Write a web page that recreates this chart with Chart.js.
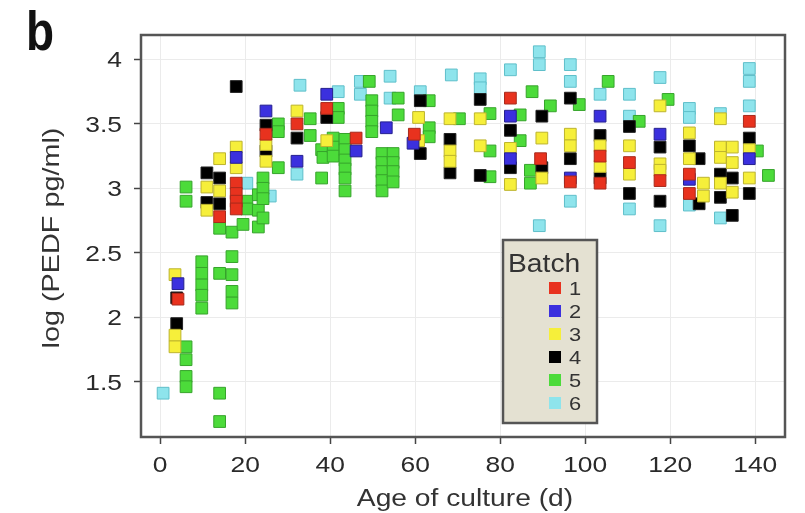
<!DOCTYPE html>
<html>
<head>
<meta charset="utf-8">
<script src="https://cdn.jsdelivr.net/npm/chart.js@4.4.1/dist/chart.umd.min.js"></script>
<style>
  html, body { margin: 0; padding: 0; background: #fff; }
  #wrap { width: 805px; height: 513px; position: relative; }
</style>
</head>
<body>
<div id="wrap"><canvas id="pedfChart"></canvas></div>
<script>
// axis ticks
const xTickValues = [0, 20, 40, 60, 80, 100, 120, 140];
const yTickValues = [1.5, 2, 2.5, 3, 3.5, 4];
const batchLabels = ['1', '2', '3', '4', '5', '6'];

// batch 1 (red)
const batch1Days = [4.2, 17.9, 17.9, 17.9, 17.9, 14.0, 24.9, 32.2, 39.2, 46.1, 59.8, 82.4, 89.5, 96.5, 103.5, 103.5, 110.4, 117.6, 124.5, 124.5, 138.6];
const batch1Logs = [2.14, 3.04, 2.96, 2.90, 2.84, 2.78, 3.42, 3.50, 3.62, 3.39, 3.42, 3.70, 3.23, 3.05, 3.25, 3.04, 3.20, 3.06, 3.11, 2.96, 3.52];

// batch 2 (blue)
const batch2Days = [4.2, 17.9, 24.9, 32.2, 39.2, 46.1, 53.2, 59.5, 82.4, 82.4, 96.5, 103.5, 117.6, 124.5, 138.6];
const batch2Logs = [2.26, 3.24, 3.60, 3.21, 3.73, 3.29, 3.47, 3.35, 3.56, 3.23, 3.08, 3.56, 3.42, 3.07, 3.23];

// batch 3 (yellow)
const batch3Days = [3.5, 3.5, 3.5, 11.0, 11.0, 14.0, 14.0, 17.9, 17.9, 24.9, 24.9, 32.2, 39.2, 60.8, 60.8,
  68.2, 68.2, 68.2, 75.3, 75.3, 82.4, 82.4, 89.8, 89.8, 96.5, 96.5, 103.5, 103.5, 110.4, 110.4,
  117.6, 117.6, 117.6, 124.5, 124.5, 127.8, 127.8, 131.8, 131.8, 131.8, 131.8, 134.6, 134.6, 134.6, 138.6, 138.6];
const batch3Logs = [2.33, 1.86, 1.77, 3.01, 2.83, 3.23, 2.98, 3.32, 3.16, 3.34, 3.21, 3.60, 3.37, 3.55, 3.37,
  3.54, 3.29, 3.21, 3.54, 3.33, 3.31, 3.03, 3.39, 3.08, 3.42, 3.33, 3.33, 3.17, 3.33, 3.11,
  3.64, 3.19, 3.14, 3.43, 3.23, 3.04, 2.94, 3.54, 3.32, 3.24, 3.04, 3.32, 3.20, 2.97, 3.30, 3.08];

// batch 4 (black)
const batch4Days = [3.9, 3.9, 11.0, 11.0, 14.0, 14.0, 17.9, 24.9, 24.9, 32.2, 39.2, 61.2, 61.2, 68.2, 68.2,
  75.3, 75.3, 82.4, 82.4, 89.8, 89.8, 96.5, 96.5, 103.5, 103.5, 110.4, 110.4, 117.6, 117.6, 124.5,
  126.8, 126.8, 131.8, 131.8, 134.6, 134.6, 138.6, 138.6];
const batch4Logs = [2.15, 1.95, 3.12, 2.89, 3.08, 2.88, 3.79, 3.49, 3.29, 3.39, 3.55, 3.68, 3.27, 3.38, 3.12,
  3.69, 3.10, 3.45, 3.16, 3.56, 3.16, 3.70, 3.23, 3.41, 3.08, 3.48, 2.96, 3.32, 2.90, 3.33,
  3.23, 2.88, 3.11, 2.93, 3.08, 2.79, 3.39, 2.96];

// batch 5 (green)
const batch5Days = [6.1, 6.1, 6.1, 6.1, 6.1, 6.1, 9.8, 9.8, 9.8, 9.8, 9.8, 14.0, 14.0, 14.0, 14.0,
  16.9, 16.9, 16.9, 16.9, 16.9, 19.5, 20.4, 20.4, 23.1, 23.1, 23.1, 24.2, 24.2, 24.2, 24.2,
  27.8, 27.8, 27.8, 35.3, 35.3, 38.0, 38.0, 38.3, 41.9, 41.9, 40.7, 40.7, 40.7,
  43.5, 43.5, 43.5, 43.5, 43.5, 43.5, 49.2, 49.8, 49.8, 49.8, 49.8,
  52.2, 52.2, 52.2, 52.2, 52.2, 54.8, 54.8, 54.8, 54.8, 56.0, 56.0, 63.3, 63.3, 63.3,
  70.4, 77.6, 77.6, 77.6, 84.7, 84.7, 87.1, 87.1, 87.5, 91.8, 98.6, 105.4, 112.7, 119.5, 140.5, 143.1];
const batch5Logs = [3.01, 2.90, 1.77, 1.67, 1.54, 1.46, 2.43, 2.34, 2.25, 2.17, 2.07, 2.34, 1.41, 1.19, 2.69,
  2.47, 2.33, 2.20, 2.11, 2.66, 2.72, 2.90, 2.84, 2.95, 2.83, 2.70, 3.08, 3.00, 2.92, 2.77,
  3.50, 3.44, 3.16, 3.54, 3.41, 3.08, 3.30, 3.24, 3.62, 3.55, 3.39, 3.32, 3.25,
  3.38, 3.30, 3.22, 3.15, 3.08, 2.98, 3.83, 3.68, 3.60, 3.52, 3.44,
  3.27, 3.20, 3.13, 3.06, 2.98, 3.27, 3.20, 3.13, 3.05, 3.70, 3.57, 3.68, 3.47, 3.40,
  3.54, 3.58, 3.29, 3.09, 3.57, 3.37, 3.14, 3.04, 3.75, 3.64, 3.65, 3.83, 3.52, 3.69, 3.29, 3.10];

// batch 6 (cyan)
const batch6Days = [0.7, 20.4, 25.9, 32.9, 32.2, 41.9, 47.1, 47.1, 54.1, 54.1, 61.2, 68.5, 75.3, 75.3, 82.4,
  89.2, 89.2, 89.2, 96.5, 96.5, 96.5, 103.5, 110.4, 110.4, 110.4, 117.6, 117.6,
  124.5, 124.5, 124.5, 131.8, 131.8, 138.6, 138.6, 138.6];
const batch6Logs = [1.41, 3.04, 2.94, 3.80, 3.11, 3.75, 3.83, 3.73, 3.87, 3.70, 3.75, 3.88, 3.85, 3.78, 3.92,
  4.06, 3.96, 2.71, 3.96, 3.83, 2.90, 3.73, 3.73, 3.56, 2.84, 3.86, 2.71,
  3.62, 3.55, 2.87, 3.58, 2.77, 3.93, 3.83, 3.64];

const batchFill = ['#e8321e', '#3b30de', '#f6ef3a', '#000000', '#4cdb3a', '#8ee4ec'];
const batchEdge = ['#a82a1c', '#25208f', '#bdb42e', '#222222', '#36a42b', '#5fbfca'];

const FONT = '"Liberation Sans", Arial, Helvetica, sans-serif';

function stretchedText(ctx, text, x, y, opts) {
    ctx.save();
    ctx.translate(x, y);
    if (opts.rotate) ctx.rotate(opts.rotate);
    ctx.scale(opts.sx || 1, 1);
    ctx.font = opts.font;
    ctx.fillStyle = opts.color || '#333';
    ctx.textAlign = opts.align || 'left';
    ctx.textBaseline = 'alphabetic';
    ctx.fillText(text, 0, 0);
    ctx.restore();
}

const decorPlugin = {
    id: 'decor',
    afterDatasetsDraw(chart) {
        const { ctx, chartArea: a } = chart;
        ctx.save();
        ctx.strokeStyle = '#555';
        ctx.lineWidth = 2.5;
        ctx.strokeRect(a.left, a.top, a.right - a.left, a.bottom - a.top);
        ctx.restore();
    },
    afterDraw(chart) {
        const ctx = chart.ctx;
        const xs = chart.scales.x, ys = chart.scales.y;
        const a = chart.chartArea;

        // tick labels
        xs.ticks.forEach(t => {
            stretchedText(ctx, String(t.value), xs.getPixelForValue(t.value), 471.5,
                { font: '22px ' + FONT, sx: 1.2, align: 'center', color: '#2a2a2a' });
        });
        ys.ticks.forEach(t => {
            stretchedText(ctx, String(t.value), 122, ys.getPixelForValue(t.value) + 8,
                { font: '22px ' + FONT, sx: 1.2, align: 'right', color: '#2a2a2a' });
        });

        // axis titles
        stretchedText(ctx, 'Age of culture (d)', (a.left + a.right) / 2 + 2, 505.5,
            { font: '23.5px ' + FONT, sx: 1.2, align: 'center', color: '#333' });
        stretchedText(ctx, 'log (PEDF pg/ml)', 59, 238,
            { font: '24px ' + FONT, sx: 1.2, align: 'center', color: '#333', rotate: -Math.PI / 2 });

        // panel letter
        stretchedText(ctx, 'b', 26, 50,
            { font: 'bold 56px ' + FONT, sx: 0.82, align: 'left', color: '#111' });

        // legend box
        const lx = 503, ly = 240, lw = 94, lh = 183;
        ctx.save();
        ctx.fillStyle = '#e4e1d2';
        ctx.fillRect(lx, ly, lw, lh);
        ctx.strokeStyle = '#555';
        ctx.lineWidth = 2.5;
        ctx.strokeRect(lx, ly, lw, lh);
        ctx.restore();
        stretchedText(ctx, 'Batch', 508, 271.5,
            { font: '25px ' + FONT, sx: 1.13, align: 'left', color: '#333' });
        chart.data.datasets.forEach((ds, i) => {
            const cy = 288 + i * 23;
            ctx.save();
            ctx.fillStyle = ds.backgroundColor;
            ctx.fillRect(549, cy - 6, 12, 12);
            ctx.restore();
            stretchedText(ctx, ds.label, 569, cy + 7,
                { font: '19px ' + FONT, sx: 1.15, align: 'left', color: '#333' });
        });
    }
};

const series = [
    [batch1Days, batch1Logs], [batch2Days, batch2Logs], [batch3Days, batch3Logs],
    [batch4Days, batch4Logs], [batch5Days, batch5Logs], [batch6Days, batch6Logs]
];

const datasets = series.map((s, i) => ({
    label: batchLabels[i],
    data: s[0].map((d, j) => ({ x: d, y: s[1][j] })),
    pointStyle: 'rect',
    pointRadius: 8.3,
    pointHoverRadius: 8.3,
    backgroundColor: batchFill[i],
    borderColor: batchEdge[i],
    borderWidth: 1,
    showLine: false
}));

new Chart(document.getElementById('pedfChart'), {
    type: 'scatter',
    data: { datasets: datasets },
    options: {
        responsive: true,
        maintainAspectRatio: false,
        animation: false,
        events: [],
        layout: { padding: { top: 35, right: 20, left: 0, bottom: 0 } },
        plugins: { legend: { display: false }, tooltip: { enabled: false } },
        scales: {
            x: {
                type: 'linear',
                min: -4.5,
                max: 147,
                afterBuildTicks: s => { s.ticks = xTickValues.map(v => ({ value: v })); },
                afterFit: s => { s.height = 76; },
                ticks: { display: false },
                border: { display: false },
                grid: { color: '#ebebeb', lineWidth: 1, tickColor: '#444', tickLength: 7, tickWidth: 1.5 }
            },
            y: {
                type: 'linear',
                min: 1.07,
                max: 4.19,
                afterBuildTicks: s => { s.ticks = yTickValues.map(v => ({ value: v })); },
                afterFit: s => { s.width = 141; },
                ticks: { display: false },
                border: { display: false },
                grid: { color: '#ebebeb', lineWidth: 1, tickColor: '#444', tickLength: 7, tickWidth: 1.5 }
            }
        }
    },
    plugins: [decorPlugin]
});
</script>
</body>
</html>
